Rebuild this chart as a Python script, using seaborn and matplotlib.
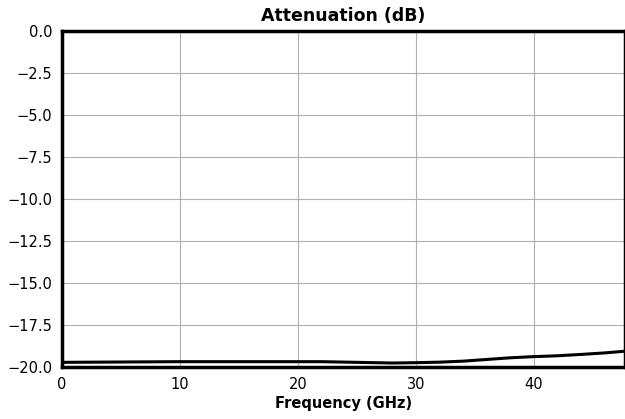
import matplotlib
matplotlib.use("Agg")
import matplotlib.pyplot as plt
import seaborn as sns
import pandas as pd

# Attenuation vs frequency
freq_ghz = [0, 5, 10, 15, 20, 22, 25, 28, 30, 32, 34, 36, 38, 40, 42, 44, 46, 47.7]
atten_db = [-19.72, -19.70, -19.68, -19.68, -19.68, -19.68, -19.72, -19.76, -19.74,
            -19.71, -19.65, -19.55, -19.45, -19.38, -19.33, -19.25, -19.16, -19.06]

df = pd.DataFrame({"Frequency": freq_ghz, "Attenuation": atten_db})

sns.set_style("white")
plt.rcParams["font.family"] = ["DejaVu Sans"]
plt.rcParams["text.color"] = "black"
plt.rcParams["xtick.color"] = "black"
plt.rcParams["ytick.color"] = "black"
plt.rcParams["axes.labelcolor"] = "black"

fig = plt.figure(figsize=(6.25, 4.19), dpi=100)
ax = fig.add_axes([0.0992, 0.124, 0.9, 0.802])

sns.lineplot(data=df, x="Frequency", y="Attenuation", color="black", linewidth=2.2, ax=ax)

ax.set_xlim(0, 47.7)
ax.set_ylim(-20, 0)
ax.set_xticks([0, 10, 20, 30, 40])
ax.set_yticks([0, -2.5, -5, -7.5, -10, -12.5, -15, -17.5, -20])
ax.grid(True, color="#b0b0b0", linewidth=0.8)
for s in ax.spines.values():
    s.set_color("black")
    s.set_linewidth(2.5)
ax.tick_params(axis="both", labelsize=10.5, length=0, pad=7)
ax.set_title("Attenuation (dB)", fontsize=12.5, fontweight="bold", pad=7)
ax.set_xlabel("Frequency (GHz)", fontsize=10.5, fontweight="bold", labelpad=3)
ax.set_ylabel("")

fig.savefig("out.png", dpi=100)
